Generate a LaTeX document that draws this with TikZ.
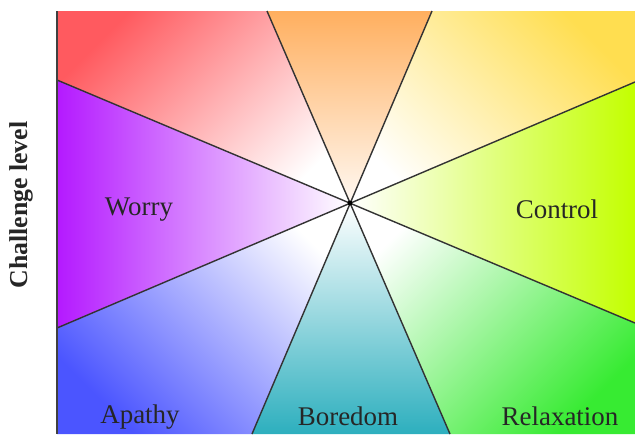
\documentclass[tikz,border=0pt]{standalone}
\usepackage{fontspec}
\setmainfont{Liberation Serif}
\usepackage{xcolor}
\usepackage{tikz}

\definecolor{redcorner}{RGB}{255,90,95}
\definecolor{orangetop}{RGB}{255,175,95}
\definecolor{yellowcorner}{RGB}{255,222,80}
\definecolor{limeright}{RGB}{195,255,0}
\definecolor{greencorner}{RGB}{55,235,50}
\definecolor{tealbottom}{RGB}{45,175,190}
\definecolor{bluecorner}{RGB}{75,85,255}
\definecolor{purpleleft}{RGB}{180,25,255}

\begin{document}
\begin{tikzpicture}[x=0.03cm, y=-0.03cm]

\tikzstyle{divider} = [draw=black!80, line width=1.2pt]
\tikzstyle{state}   = [text=black!85, font=\fontsize{23}{26}\selectfont]
\tikzstyle{axislab} = [text=black!85, font=\fontsize{22}{26}\selectfont\bfseries,
                       rotate=90]

\useasboundingbox (0,0) rectangle (635,434);

% ── Corner points of the plot and ends of the dividers ──
\coordinate (c)  at (350,203);
\coordinate (tl) at (57,11);
\coordinate (tr) at (635,11);
\coordinate (br) at (635,434);
\coordinate (bl) at (57,434);
\coordinate (l1) at (57,80);
\coordinate (r1) at (635,323);
\coordinate (l2) at (57,328);
\coordinate (r2) at (635,82);
\coordinate (t1) at (267,11);
\coordinate (b1) at (450,434);
\coordinate (t2) at (432,11);
\coordinate (b2) at (252,434);

% ── Wedges, each fading to white at the centre ──────────
\shade[top color=redcorner, bottom color=white, shading angle=45]
  (tl) -- (t1) -- (c) -- (l1) -- cycle;
\shade[top color=orangetop, bottom color=white!95!orange]
  (t1) -- (t2) -- (c) -- cycle;
\shade[top color=yellowcorner, bottom color=white, shading angle=-45]
  (t2) -- (tr) -- (r2) -- (c) -- cycle;
\shade[left color=white, right color=limeright]
  (r2) -- (r1) -- (c) -- cycle;
\shade[top color=white, bottom color=greencorner, shading angle=45]
  (r1) -- (br) -- (b1) -- (c) -- cycle;
\shade[top color=white, bottom color=tealbottom]
  (b1) -- (b2) -- (c) -- cycle;
\shade[top color=white, bottom color=bluecorner, shading angle=-45]
  (b2) -- (bl) -- (l2) -- (c) -- cycle;
\shade[left color=purpleleft, right color=white]
  (l2) -- (l1) -- (c) -- cycle;

% ── Dividers and axis ───────────────────────────────────
\draw[divider] (l1) -- (r1);
\draw[divider] (l2) -- (r2);
\draw[divider] (t1) -- (b1);
\draw[divider] (t2) -- (b2);
\draw[black!75, line width=1.5pt] (tl) -- (bl);
\fill[black] (c) circle (2.4);

% ── Labels ──────────────────────────────────────────────
\node[state] (worry)   at (139,210) {Worry};
\node[state] (control) at (557,209) {Control};
\node[state] (apathy)  at (140,417) {Apathy};
\node[state] (boredom) at (348,416) {Boredom};
\node[state] (relax)   at (560,416) {Relaxation};
\node[axislab] (chal)  at (21,205)  {Challenge level};

\end{tikzpicture}
\end{document}
